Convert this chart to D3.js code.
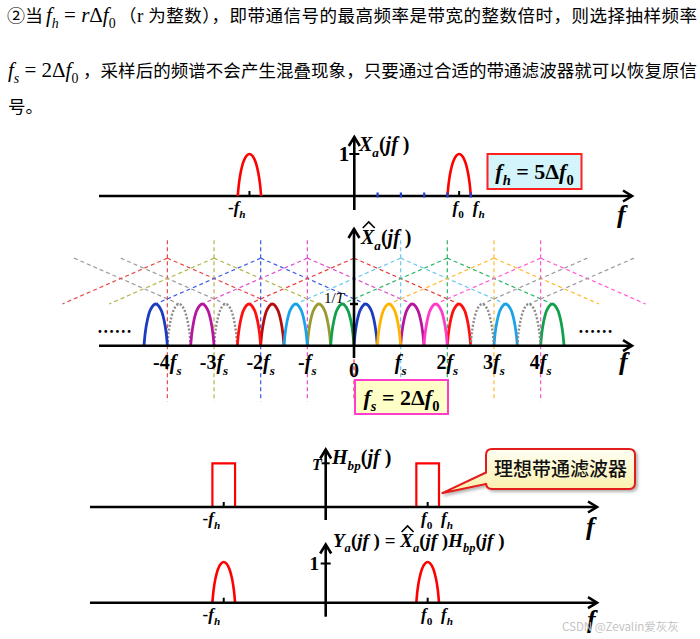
<!DOCTYPE html>
<html><head><meta charset="utf-8">
<script src="https://cdn.jsdelivr.net/npm/d3@7"></script>
<style>html,body{margin:0;padding:0;background:#fff}svg{display:block}</style>
</head><body>
<svg id="c" width="700" height="639"></svg>
<script>
// ---------------- data (frequencies in units of Δf0) ----------------
const bandLow = 4;            // f_l = 4Δf0
const bandHigh = 5;           // f_h = 5Δf0
const fsUnits = 2;            // f_s = 2Δf0
const bandTickUnits = [1, 2, 3, 4, 5];
const shiftIndex = [-6, -5, -4, -3, -2, -1, 0, 1, 2, 3, 4, 5, 6];
const humpColor  = ["#8a8a8a","#8a8a8a","#b50d0d","#9a9830","#1a3cc0","#b5169c","#ff0f0f","#1aa2ea","#11a04c","#ffb400","#ff3cc6","#8a8a8a","#8a8a8a"];
const guideColor = ["#9a9a9a","#9a9a9a","#e84848","#b4b44a","#3a5be6","#e04ccc","#e83838","#6cc6f2","#2cb468","#ffb830","#ff5ad2","#9a9a9a","#9a9a9a"];
const fsTickShifts = [-4, -3, -2, -1, 0, 1, 2, 3, 4];
const fsTickNums   = ["-4", "-3", "-2", "-", "0", "", "2", "3", "4"];
const humpT = [0, 0.05, 0.13, 0.25, 0.38, 0.5, 0.62, 0.75, 0.87, 0.95, 1];
const humpV = [0, 0.30, 0.58, 0.83, 0.96, 1, 0.96, 0.83, 0.58, 0.30, 0];
const introLine1 = ["②当", "（", "r", " 为整数），即带通信号的最高频率是带宽的整数倍时，则选择抽样频率"];
const introLine2 = "，采样后的频谱不会产生混叠现象，只要通过合适的带通滤波器就可以恢复原信";
const introLine3 = "号。";
const calloutText = "理想带通滤波器";
const watermark = "CSDN @Zevalin爱灰灰";

// ---------------- helpers ----------------
const svg = d3.select("#c");
const SERIF = "'Liberation Serif','Times New Roman','DejaVu Serif',serif";
const CJK = "'Noto Sans CJK SC','Noto Sans CJK JP',sans-serif";

function math(sel, x, y, parts, o = {}) {
  const size = o.size || 20;
  const t = sel.append("text").attr("x", x).attr("y", y)
    .attr("font-family", SERIF).attr("font-size", size)
    .attr("font-weight", o.bold ? "bold" : "normal")
    .attr("text-anchor", o.anchor || "start").attr("fill", o.fill || "#000");
  let cur = 0;
  parts.forEach(([s, st]) => {
    const sp = t.append("tspan").text(s);
    const isSub = st.startsWith("sub");
    const target = isSub ? size * 0.28 : 0;
    if (target !== cur) { sp.attr("dy", target - cur); cur = target; }
    if (isSub) sp.attr("font-size", size * 0.66);
    sp.attr("font-style", st.endsWith("i") ? "italic" : "normal");
  });
  return t;
}
function hat(textSel, idx, dy) {
  const e = textSel.node().getExtentOfChar(idx);
  const cx = e.x + e.width * 0.58, top = e.y + (dy || 0);
  svg.append("path").attr("d", `M${cx-6},${top+3}L${cx},${top-3}L${cx+6},${top+3}`)
    .attr("fill", "none").attr("stroke", "#000").attr("stroke-width", 1.6);
}
function hAxis(y, x0, x1) {
  svg.append("line").attr("x1", x0).attr("x2", x1).attr("y1", y).attr("y2", y)
    .attr("stroke", "#000").attr("stroke-width", 2.6);
  svg.append("path").attr("d", `M${x1-9},${y-5.5}L${x1},${y}L${x1-9},${y+5.5}`)
    .attr("fill", "none").attr("stroke", "#000").attr("stroke-width", 2.6);
}
function vAxis(x, y0, y1) {
  svg.append("line").attr("x1", x).attr("x2", x).attr("y1", y0).attr("y2", y1)
    .attr("stroke", "#000").attr("stroke-width", 2.6);
  svg.append("path").attr("d", `M${x-5.5},${y1+9}L${x},${y1}L${x+5.5},${y1+9}`)
    .attr("fill", "none").attr("stroke", "#000").attr("stroke-width", 2.6);
}
function humpPath(xs, ys, a, b, amp) {
  return d3.line().curve(d3.curveCatmullRom)(humpT.map((t, i) => [xs(a + (b - a) * t), ys(humpV[i] * amp)]));
}
function fLabel(x, y) { math(svg, x, y, [["f", "i"]], { size: 26, bold: true }); }
function bandLabels(xs, y, size) {
  math(svg, xs(-bandHigh) - 1, y, [["-", "n"], ["f", "i"], ["h", "subi"]], { size, bold: true, anchor: "middle" });
  math(svg, xs((bandLow + bandHigh) / 2) - 1, y, [["f", "i"], ["0", "subn"]], { size, bold: true, anchor: "middle" });
  math(svg, xs(bandHigh) + 8, y, [["f", "i"], ["h", "subi"]], { size, bold: true, anchor: "middle" });
}
function centerTicks(xs, y) {
  [-1, 1].forEach(s => svg.append("line")
    .attr("x1", xs(s * (bandLow + bandHigh) / 2)).attr("x2", xs(s * (bandLow + bandHigh) / 2))
    .attr("y1", y).attr("y2", y - 5).attr("stroke", "#000").attr("stroke-width", 2));
}

// defs
const defs = svg.append("defs");
const gr = defs.append("linearGradient").attr("id", "cg").attr("x1", 0).attr("y1", 0).attr("x2", 0).attr("y2", 1);
gr.append("stop").attr("offset", "0%").attr("stop-color", "#fffff4");
gr.append("stop").attr("offset", "100%").attr("stop-color", "#fbefa6");
defs.append("filter").attr("id", "sh").attr("x", "-10%").attr("y", "-10%").attr("width", "130%").attr("height", "140%")
  .append("feDropShadow").attr("dx", 2).attr("dy", 2).attr("stdDeviation", 1.6).attr("flood-color", "#000").attr("flood-opacity", 0.3);

// ---------------- intro text ----------------
svg.append("text").attr("x", 7).attr("y", 22).attr("font-family", CJK).attr("font-size", 17.5)
  .attr("textLength", 36).attr("lengthAdjust", "spacingAndGlyphs").text(introLine1[0]);
math(svg, 46, 22, [["f", "i"], ["h", "subi"], [" = ", "n"], ["r", "i"], ["Δ", "n"], ["f", "i"], ["0", "subn"]], { size: 21 });
const t1 = svg.append("text").attr("x", 119).attr("y", 22).attr("font-family", CJK).attr("font-size", 17.5)
  .attr("textLength", 578).attr("lengthAdjust", "spacing");
t1.append("tspan").text(introLine1[1]);
t1.append("tspan").attr("font-family", SERIF).attr("font-size", 19).text(introLine1[2]);
t1.append("tspan").text(introLine1[3]);

math(svg, 8, 77, [["f", "i"], ["s", "subi"], [" = 2", "n"], ["Δ", "n"], ["f", "i"], ["0", "subn"]], { size: 21 });
svg.append("text").attr("x", 83).attr("y", 77).attr("font-family", CJK).attr("font-size", 17.5)
  .attr("textLength", 614).attr("lengthAdjust", "spacing").text(introLine2);
svg.append("text").attr("x", 8).attr("y", 113).attr("font-family", CJK).attr("font-size", 17.5).text(introLine3);

// ---------------- panel 1: X_a(jf) ----------------
const x1 = d3.scaleLinear().domain([0, 1]).range([354.3, 377.6]);
const y1 = d3.scaleLinear().domain([0, 1]).range([196, 154]);
hAxis(y1(0), 99, 632);
vAxis(x1(0), 210, 137);
svg.append("line").attr("x1", x1(0) - 5).attr("x2", x1(0) + 5).attr("y1", y1(1)).attr("y2", y1(1)).attr("stroke", "#000").attr("stroke-width", 2);
math(svg, x1(0) - 5, y1(1) + 7, [["1", "n"]], { size: 21, bold: true, anchor: "end" });
[[-bandHigh, -bandLow], [bandLow, bandHigh]].forEach(([a, b]) =>
  svg.append("path").attr("d", humpPath(x1, y1, a, b, 1)).attr("fill", "none").attr("stroke", "#ff0000").attr("stroke-width", 2.6));
centerTicks(x1, y1(0));
bandTickUnits.forEach(u => svg.append("line").attr("x1", x1(u)).attr("x2", x1(u)).attr("y1", y1(0) - 3.5).attr("y2", y1(0) + 1.5)
  .attr("stroke", "#1f3fd0").attr("stroke-width", 2.2));
bandLabels(x1, 213, 17);
const lab1 = math(svg, 359, 151, [["X", "i"], ["a", "subi"], ["(", "n"], ["jf", "i"], [" )", "n"]], { size: 20, bold: true });
fLabel(617, 223);
svg.append("rect").attr("x", 487.5).attr("y", 154).attr("width", 94).attr("height", 35)
  .attr("fill", "#d2f4fa").attr("stroke", "#ff2020").attr("stroke-width", 2);
math(svg, 534.5, 179, [["f", "i"], ["h", "subi"], [" = 5", "n"], ["Δ", "n"], ["f", "i"], ["0", "subn"]], { size: 22, bold: true, anchor: "middle" });

// ---------------- panel 2: sampled spectrum ----------------
const x2 = d3.scaleLinear().domain([0, 1]).range([354, 377.33]);
const y2 = d3.scaleLinear().domain([0, 1]).range([345.7, 304]);
const guideApex = 2.1, guideTop = 2.53, guideBottom = -1.34;
const gG = svg.append("g");
shiftIndex.forEach((k, i) => {
  const c = fsUnits * k;
  const gray = Math.abs(k) > 4;
  if (!gray) gG.append("line").attr("x1", x2(c)).attr("x2", x2(c)).attr("y1", y2(guideTop)).attr("y2", y2(guideBottom))
    .attr("stroke", guideColor[i]).attr("stroke-width", 1.2).attr("stroke-dasharray", "4,3");
  [-1, 1].forEach(s => {
    const foot = c + s * (bandLow + bandHigh) / 2;
    if (x2(foot) < 50 || x2(foot) > 660) return;
    gG.append("line").attr("x1", x2(c)).attr("y1", y2(guideApex)).attr("x2", x2(foot)).attr("y2", y2(1))
      .attr("stroke", guideColor[i]).attr("stroke-width", 1.2).attr("stroke-dasharray", "4,3");
  });
});
const hG = svg.append("g");
shiftIndex.forEach((k, i) => {
  const c = fsUnits * k;
  [[bandLow + c, bandHigh + c], [-bandHigh + c, -bandLow + c]].forEach(([a, b]) => {
    if (a < -9 || b > 9) return;
    const gray = Math.abs(k) > 4;
    hG.append("path").attr("d", humpPath(x2, y2, a, b, 1)).attr("fill", "none")
      .attr("stroke", humpColor[i]).attr("stroke-width", gray ? 2.4 : 2.8)
      .attr("stroke-dasharray", gray ? "2,1.8" : null);
  });
});
hAxis(y2(0), 99, 632);
vAxis(x2(0), 358, 229);
svg.append("line").attr("x1", x2(0) - 4).attr("x2", x2(0) + 4).attr("y1", y2(1)).attr("y2", y2(1)).attr("stroke", "#000").attr("stroke-width", 2.4);
math(svg, 344, 303, [["1/", "n"], ["T", "i"]], { size: 15, bold: false, anchor: "end" });
svg.append("text").attr("x", 97).attr("y", 338).attr("font-family", CJK).attr("font-size", 17.5).attr("font-weight", "bold").text("……");
svg.append("text").attr("x", 578).attr("y", 338).attr("font-family", CJK).attr("font-size", 17.5).attr("font-weight", "bold").text("……");
fsTickShifts.forEach((k, i) => {
  const x = x2(fsUnits * k);
  if (k === 0) { math(svg, x, 377, [["0", "n"]], { size: 20, bold: true, anchor: "middle" }); return; }
  math(svg, x, 369, [[fsTickNums[i], "n"], ["f", "i"], ["s", "subi"]], { size: 20, bold: true, anchor: "middle" });
});
const lab2 = math(svg, 361, 244, [["X", "i"], ["a", "subi"], ["(", "n"], ["jf", "i"], [" )", "n"]], { size: 20, bold: true });
hat(lab2, 0, -1);
fLabel(619, 370);
svg.append("rect").attr("x", 355).attr("y", 380).attr("width", 93).attr("height", 34)
  .attr("fill", "#ffffc8").attr("stroke", "#ff3ccc").attr("stroke-width", 2);
math(svg, 401.5, 405, [["f", "i"], ["s", "subi"], [" = 2", "n"], ["Δ", "n"], ["f", "i"], ["0", "subn"]], { size: 22, bold: true, anchor: "middle" });

// ---------------- panel 3: H_bp(jf) ----------------
const x3 = d3.scaleLinear().domain([0, 5]).range([325.7, 439]);
const y3 = d3.scaleLinear().domain([0, 1]).range([507, 463.3]);
[[-bandHigh, -bandLow], [bandLow, bandHigh]].forEach(([a, b]) =>
  svg.append("path").attr("d", `M${x3(a)},${y3(0)}V${y3(1)}H${x3(b)}V${y3(0)}`)
    .attr("fill", "none").attr("stroke", "#ff0000").attr("stroke-width", 2.2));
hAxis(y3(0), 90, 597);
vAxis(x3(0), 520, 449.5);
centerTicks(x3, y3(0));
svg.append("line").attr("x1", x3(0) - 4).attr("x2", x3(0) + 4).attr("y1", y3(1)).attr("y2", y3(1)).attr("stroke", "#000").attr("stroke-width", 2);
math(svg, 317, 470, [["T", "i"]], { size: 16, bold: true, anchor: "middle" });
math(svg, 332, 464, [["H", "i"], ["bp", "subi"], ["(", "n"], ["jf", "i"], [" )", "n"]], { size: 20, bold: true });
bandLabels(x3, 524, 17);
fLabel(586, 535);
// callout
svg.append("path")
  .attr("d", "M492,449H629Q635,449 635,455V483Q635,489 629,489H492Q486,489 486,483V484L441.7,493.3L486,472.5V455Q486,449 492,449Z")
  .attr("fill", "url(#cg)").attr("stroke", "#e31b1b").attr("stroke-width", 2).attr("filter", "url(#sh)");
svg.append("text").attr("x", 560.5).attr("y", 476).attr("text-anchor", "middle").attr("font-family", CJK)
  .attr("font-size", 19).attr("font-weight", 500).attr("fill", "#111").text(calloutText);

// ---------------- panel 4: Y_a(jf) ----------------
const x4 = x3;
const y4 = d3.scaleLinear().domain([0, 1]).range([602.7, 562]);
[[-bandHigh, -bandLow], [bandLow, bandHigh]].forEach(([a, b]) =>
  svg.append("path").attr("d", humpPath(x4, y4, a, b, 1)).attr("fill", "none").attr("stroke", "#ff0000").attr("stroke-width", 2.6));
hAxis(y4(0), 90, 597);
vAxis(x4(0), 616.7, 544.5);
centerTicks(x4, y4(0));
svg.append("line").attr("x1", x4(0) - 5).attr("x2", x4(0) + 5).attr("y1", 563.5).attr("y2", 563.5).attr("stroke", "#000").attr("stroke-width", 2);
math(svg, 319, 570, [["1", "n"]], { size: 19, bold: true, anchor: "end" });
const lab4 = math(svg, 333, 547, [["Y", "i"], ["a", "subi"], ["(", "n"], ["jf", "i"], [" ) = ", "n"], ["X", "i"], ["a", "subi"], ["(", "n"], ["jf", "i"], [" )", "n"], ["H", "i"], ["bp", "subi"], ["(", "n"], ["jf", "i"], [" )", "n"]], { size: 19, bold: true });
hat(lab4, lab4.text().indexOf("X"), -1);
bandLabels(x4, 620, 17);
fLabel(587, 628);
svg.append("text").attr("x", 562).attr("y", 631).attr("font-family", CJK).attr("font-size", 11.5)
  .attr("fill", "#c4c4c4").text(watermark);
</script>
</body></html>
